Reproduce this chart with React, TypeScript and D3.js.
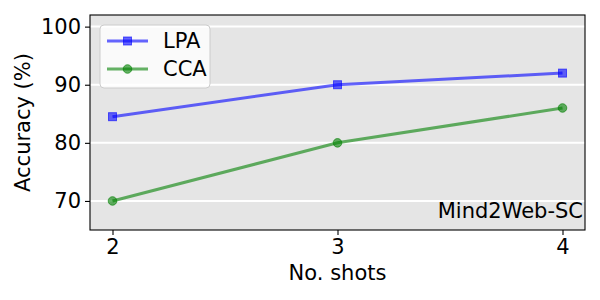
import React, { useEffect, useRef } from 'react';
import * as d3 from 'd3';

const shots = [2, 3, 4];
const lpaValues = [84.5, 90, 92];
const ccaValues = [70, 80, 86];
const yTicks = [70, 80, 90, 100];

const App = () => {
  const ref = useRef<SVGSVGElement>(null);

  useEffect(() => {
    const svg = d3.select(ref.current);
    svg.selectAll('*').remove();

    const margin = { top: 15, right: 15, bottom: 70, left: 90 };
    const width = 600 - margin.left - margin.right;
    const height = 300 - margin.top - margin.bottom;
    const font = 'DejaVu Sans, sans-serif';
    const fs = 21;

    const x = d3.scaleLinear().domain([1.9, 4.1]).range([0, width]);
    const y = d3.scaleLinear().domain([65, 102]).range([height, 0]);

    const g = svg.append('g').attr('transform', `translate(${margin.left},${margin.top})`);

    // background
    g.append('rect').attr('width', width).attr('height', height).attr('fill', '#e5e5e5');

    // grid
    g.selectAll('line.grid')
      .data(yTicks)
      .enter()
      .append('line')
      .attr('x1', 0)
      .attr('x2', width)
      .attr('y1', d => y(d))
      .attr('y2', d => y(d))
      .attr('stroke', 'white')
      .attr('stroke-width', 2);

    const series = [
      { name: 'LPA', values: lpaValues, color: 'blue', marker: 'square' },
      { name: 'CCA', values: ccaValues, color: 'green', marker: 'circle' },
    ];

    const line = d3.line<number>()
      .x((_, i) => x(shots[i]))
      .y(d => y(d));

    series.forEach(s => {
      const sg = g.append('g');
      sg.append('path')
        .attr('d', line(s.values))
        .attr('fill', 'none')
        .attr('stroke', s.color)
        .attr('stroke-opacity', 0.6)
        .attr('stroke-width', 3);
      s.values.forEach((v, i) => {
        if (s.marker === 'square') {
          sg.append('rect')
            .attr('x', x(shots[i]) - 4)
            .attr('y', y(v) - 4)
            .attr('width', 8)
            .attr('height', 8)
            .attr('fill', s.color)
            .attr('fill-opacity', 0.6)
            .attr('stroke', s.color)
            .attr('stroke-opacity', 0.6)
            .attr('stroke-width', 1);
        } else {
          sg.append('circle')
            .attr('cx', x(shots[i]))
            .attr('cy', y(v))
            .attr('r', 4.3)
            .attr('fill', s.color)
            .attr('fill-opacity', 0.6)
            .attr('stroke', s.color)
            .attr('stroke-opacity', 0.6)
            .attr('stroke-width', 1);
        }
      });
    });

    // frame
    g.append('rect')
      .attr('width', width)
      .attr('height', height)
      .attr('fill', 'none')
      .attr('stroke', 'black')
      .attr('stroke-width', 1.1);

    // axes
    const xAxis = g.append('g')
      .attr('transform', `translate(0,${height})`)
      .call(d3.axisBottom(x).tickValues(shots).tickFormat(d3.format('d')).tickSize(5).tickPadding(4));
    const yAxis = g.append('g')
      .call(d3.axisLeft(y).tickValues(yTicks).tickSize(5).tickPadding(4));
    [xAxis, yAxis].forEach(a => {
      a.select('.domain').remove();
      a.selectAll('text').attr('font-family', font).attr('font-size', fs).attr('fill', 'black');
      a.selectAll('line').attr('stroke', 'black').attr('stroke-width', 1.1);
    });

    g.append('text')
      .attr('x', width / 2)
      .attr('y', height + 50)
      .attr('text-anchor', 'middle')
      .attr('font-family', font)
      .attr('font-size', fs)
      .text('No. shots');

    g.append('text')
      .attr('transform', `translate(${-60},${height / 2}) rotate(-90)`)
      .attr('text-anchor', 'middle')
      .attr('font-family', font)
      .attr('font-size', fs)
      .text('Accuracy (%)');

    g.append('text')
      .attr('x', width - 2)
      .attr('y', height - 12)
      .attr('text-anchor', 'end')
      .attr('font-family', font)
      .attr('font-size', fs)
      .text('Mind2Web-SC');

    // legend
    const lg = g.append('g').attr('transform', 'translate(10,10)');
    lg.append('rect')
      .attr('width', 110)
      .attr('height', 63)
      .attr('rx', 4)
      .attr('fill', 'white')
      .attr('fill-opacity', 0.8)
      .attr('stroke', '#cccccc')
      .attr('stroke-width', 1);
    series.forEach((s, i) => {
      const cy = 16 + i * 28;
      lg.append('line')
        .attr('x1', 7).attr('x2', 48)
        .attr('y1', cy).attr('y2', cy)
        .attr('stroke', s.color)
        .attr('stroke-opacity', 0.6)
        .attr('stroke-width', 3);
      if (s.marker === 'square') {
        lg.append('rect')
          .attr('x', 27.5 - 4).attr('y', cy - 4)
          .attr('width', 8).attr('height', 8)
          .attr('fill', s.color).attr('fill-opacity', 0.6)
          .attr('stroke', s.color).attr('stroke-opacity', 0.6);
      } else {
        lg.append('circle')
          .attr('cx', 27.5).attr('cy', cy).attr('r', 4.3)
          .attr('fill', s.color).attr('fill-opacity', 0.6)
          .attr('stroke', s.color).attr('stroke-opacity', 0.6);
      }
      lg.append('text')
        .attr('x', 63)
        .attr('y', cy)
        .attr('dy', '0.35em')
        .attr('font-family', font)
        .attr('font-size', fs)
        .text(s.name);
    });
  }, []);

  return (
    <svg
      ref={ref}
      width={600}
      height={300}
      style={{ position: 'absolute', left: 0, top: 0, background: 'white' }}
    />
  );
};

export default App;
